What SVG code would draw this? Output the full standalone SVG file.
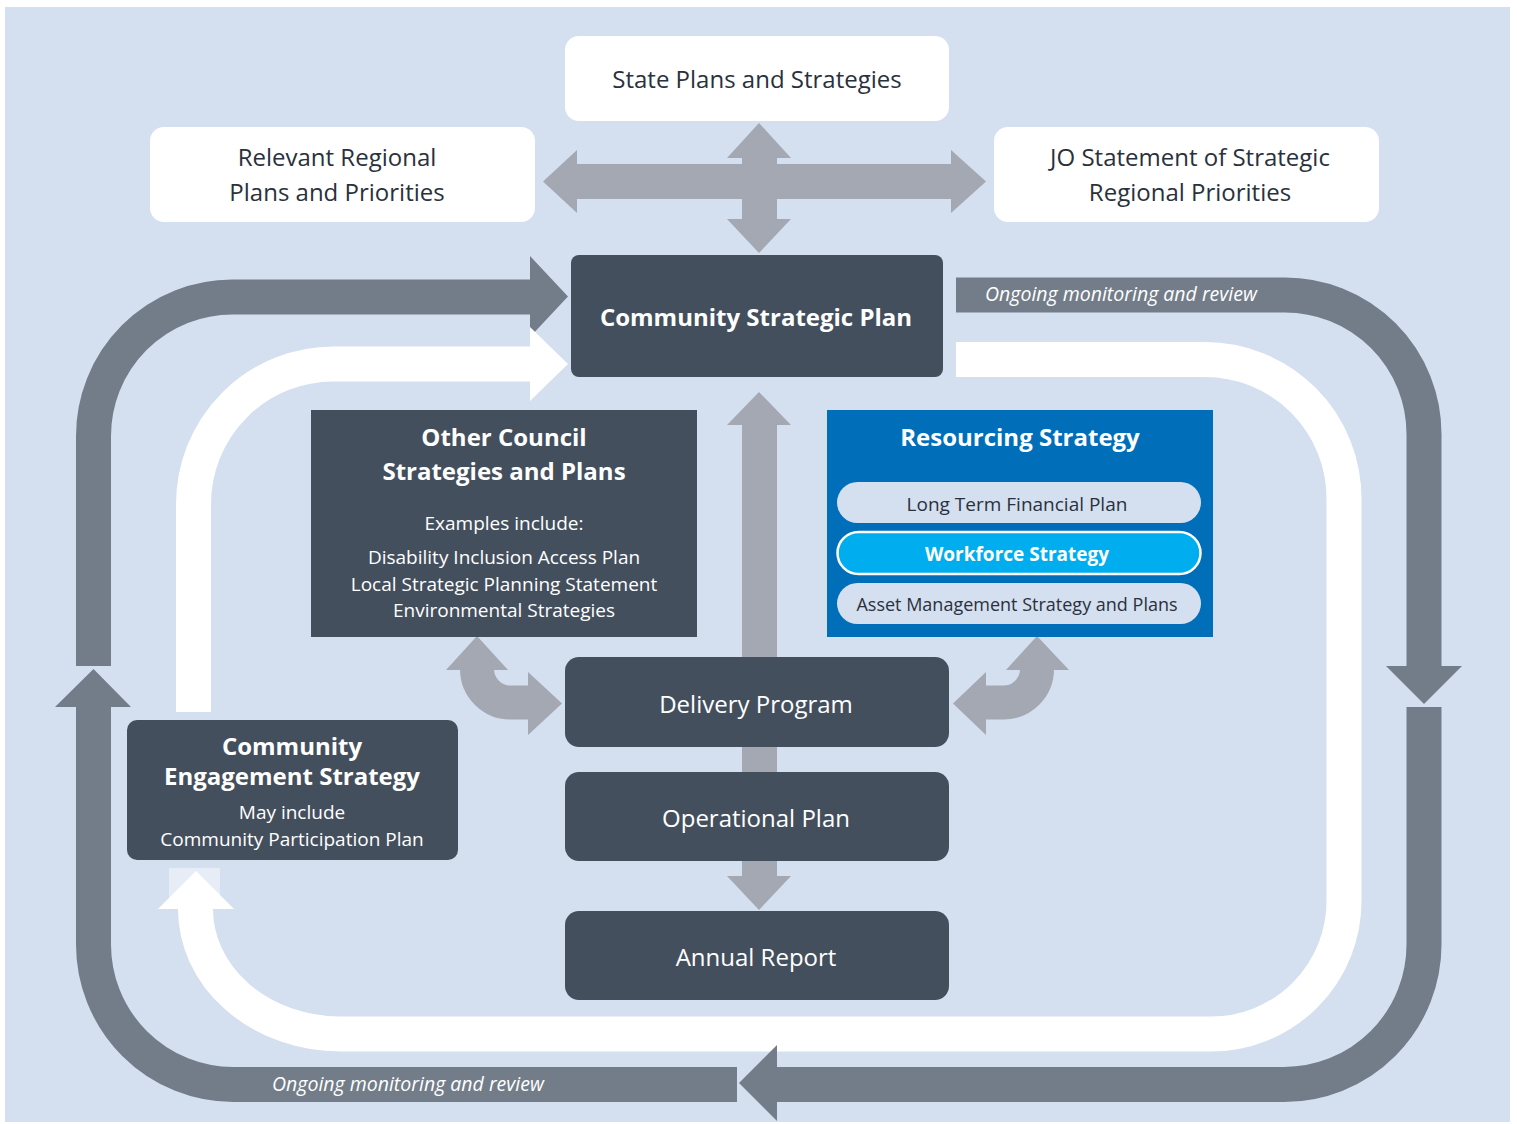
<svg xmlns="http://www.w3.org/2000/svg" width="1517" height="1124" viewBox="0 0 1517 1124">
  <style>
    .bg { fill: #D4DFF0; }
    .loop { fill: none; stroke: #737D89; stroke-width: 35; }
    .loophead { fill: #737D89; }
    .wloop { fill: none; stroke: #FFFFFF; stroke-width: 35; }
    .whead { fill: #FFFFFF; }
    .flow { fill: #A3A8B3; }
    .flowline { fill: none; stroke: #A3A8B3; stroke-width: 34; }
    .light { fill: #FFFFFF; }
    .dark { fill: #444F5E; }
    .blue { fill: #006EB9; }
    .pill { fill: #D4DFF0; }
    .pillhi { fill: #00AEEF; stroke: #FFFFFF; stroke-width: 2.5; }
    text { font-family: "Open Sans", "Noto Sans", "Liberation Sans", sans-serif; text-anchor: middle; }
    .t-dark { fill: #2A313C; font-size: 24px; }
    .t-title { fill: #FFFFFF; font-size: 24px; font-weight: bold; }
    .t-big { fill: #FFFFFF; font-size: 24px; }
    .t-small { fill: #FFFFFF; font-size: 19px; }
    .t-pill { fill: #2A313C; font-size: 19px; }
    .t-pillb { fill: #FFFFFF; font-size: 19px; font-weight: bold; }
    .t-note { fill: #FFFFFF; font-size: 19.5px; font-style: italic; text-anchor: start; }
  </style>

  <rect class="bg" x="5" y="7" width="1505" height="1115"/>

  <g id="connectors">
    <!-- outer monitoring loop -->
    <path class="loop" d="M956,295 L1285,295 A139 139 0 0 1 1424,434 L1424,667"/>
    <polygon class="loophead" points="1386,666 1462,666 1424,704"/>
    <path class="loop" d="M1424,707 L1424,944 A140 140 0 0 1 1284,1084.5 L776,1084.5"/>
    <path class="loop" d="M737,1084.5 L233,1084.5 A140 140 0 0 1 93.5,944.5 L93.5,706"/>
    <polygon class="loophead" points="55,707 131,707 93.5,669"/>
    <path class="loop" d="M93.5,666 L93.5,436 A139 139 0 0 1 232.5,297 L531,297"/>
    <polygon class="loophead" points="530,256 530,337 568,296.5"/>

    <!-- inner engagement loop -->
    <path class="wloop" d="M956,359.5 L1205,359.5 A139 139 0 0 1 1344,498.5 L1344,901 A133 133 0 0 1 1211,1034 L340,1034 A145 125 0 0 1 195.5,908"/>
    <rect x="169" y="868" width="51" height="29" fill="#E7EDF7"/>
    <polygon class="whead" points="158,909 234,909 196,871"/>
    <path class="wloop" d="M193.5,712 L193.5,504 A140 140 0 0 1 333.5,364 L531,364"/>
    <polygon class="whead" points="530,327 530,401 568,364"/>

    <!-- bottom loop arrowhead sits over the white band -->
    <polygon class="loophead" points="777,1045 777,1121 739,1083"/>

    <!-- four-way exchange arrow -->
    <rect class="flow" x="576" y="164" width="376" height="35"/>
    <polygon class="flow" points="577,150 577,213 543,181.5"/>
    <polygon class="flow" points="951,150 951,213 986,181.5"/>
    <rect class="flow" x="742" y="157" width="35" height="63"/>
    <polygon class="flow" points="727,158 791,158 759,123"/>
    <polygon class="flow" points="727,219 791,219 759,253"/>

    <!-- central spine -->
    <polygon class="flow" points="727,425 791,425 759,392"/>
    <rect class="flow" x="742" y="424" width="35" height="352"/>
    <rect class="flow" x="742" y="858" width="35" height="19"/>
    <polygon class="flow" points="727,876 791,876 759,910"/>

    <!-- side curved arrows -->
    <path class="flowline" d="M477,669 A33.5 33.5 0 0 0 510.5,702.5 L529,702.5"/>
    <polygon class="flow" points="446,670 508,670 477,636"/>
    <polygon class="flow" points="528,672 528,735 562,703.5"/>
    <path class="flowline" d="M1037,669 A33.5 33.5 0 0 1 1003.5,702.5 L985,702.5"/>
    <polygon class="flow" points="1006,670 1069,670 1037,636"/>
    <polygon class="flow" points="986,672 986,735 953,703.5"/>

    <text class="t-note" x="985" y="301">Ongoing monitoring and review</text>
    <text class="t-note" x="272" y="1091">Ongoing monitoring and review</text>
  </g>

  <g id="state-plans">
    <rect class="light" x="565" y="36" width="384" height="85" rx="14"/>
    <text class="t-dark" x="757" y="88">State Plans and Strategies</text>
  </g>

  <g id="regional-plans">
    <rect class="light" x="150" y="127" width="385" height="95" rx="14"/>
    <text class="t-dark" x="337" y="166">Relevant Regional</text>
    <text class="t-dark" x="337" y="201">Plans and Priorities</text>
  </g>

  <g id="jo-statement">
    <rect class="light" x="994" y="127" width="385" height="95" rx="14"/>
    <text class="t-dark" x="1190" y="166">JO Statement of Strategic</text>
    <text class="t-dark" x="1190" y="201">Regional Priorities</text>
  </g>

  <g id="community-strategic-plan">
    <rect class="dark" x="571" y="255" width="372" height="122" rx="8"/>
    <text class="t-title" x="756" y="326">Community Strategic Plan</text>
  </g>

  <g id="other-council">
    <rect class="dark" x="311" y="410" width="386" height="227"/>
    <text class="t-title" x="504" y="446">Other Council</text>
    <text class="t-title" x="504" y="480">Strategies and Plans</text>
    <text class="t-small" x="504" y="530">Examples include:</text>
    <text class="t-small" x="504" y="564">Disability Inclusion Access Plan</text>
    <text class="t-small" x="504" y="591">Local Strategic Planning Statement</text>
    <text class="t-small" x="504" y="617">Environmental Strategies</text>
  </g>

  <g id="resourcing-strategy">
    <rect class="blue" x="827" y="410" width="386" height="227"/>
    <text class="t-title" x="1020" y="446">Resourcing Strategy</text>
    <rect class="pill" x="837" y="482" width="364" height="41" rx="20.5"/>
    <text class="t-pill" x="1017" y="511">Long Term Financial Plan</text>
    <rect class="pillhi" x="837.5" y="532" width="363" height="42" rx="21"/>
    <text class="t-pillb" x="1017" y="561">Workforce Strategy</text>
    <rect class="pill" x="837" y="583" width="364" height="41" rx="20.5"/>
    <text class="t-pill" x="1017" y="611" style="font-size:18px">Asset Management Strategy and Plans</text>
  </g>

  <g id="delivery-program">
    <rect class="dark" x="565" y="657" width="384" height="90" rx="14"/>
    <text class="t-big" x="756" y="713">Delivery Program</text>
  </g>

  <g id="operational-plan">
    <rect class="dark" x="565" y="772" width="384" height="89" rx="14"/>
    <text class="t-big" x="756" y="827">Operational Plan</text>
  </g>

  <g id="annual-report">
    <rect class="dark" x="565" y="911" width="384" height="89" rx="14"/>
    <text class="t-big" x="756" y="966">Annual Report</text>
  </g>

  <g id="community-engagement">
    <rect class="dark" x="127" y="720" width="331" height="140" rx="10"/>
    <text class="t-title" x="292" y="755">Community</text>
    <text class="t-title" x="292" y="785">Engagement Strategy</text>
    <text class="t-small" x="292" y="819">May include</text>
    <text class="t-small" x="292" y="846">Community Participation Plan</text>
  </g>
</svg>
